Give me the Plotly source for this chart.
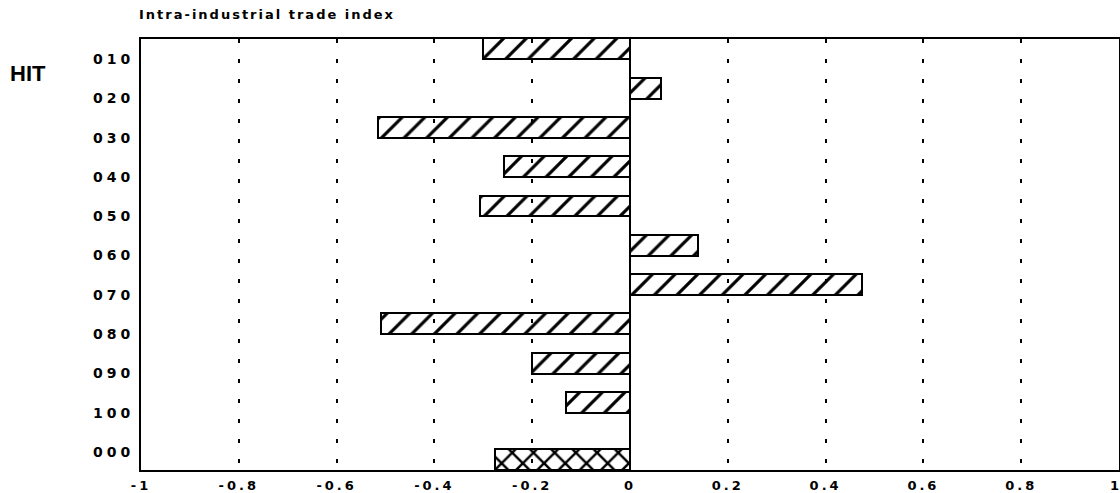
import plotly.graph_objects as go

categories = ["010", "020", "030", "040", "050", "060", "070", "080", "090", "100", "000"]
values = [-0.30, 0.063, -0.515, -0.258, -0.307, 0.139, 0.474, -0.509, -0.20, -0.131, -0.276]
x_ticks = [-1, -0.8, -0.6, -0.4, -0.2, 0, 0.2, 0.4, 0.6, 0.8, 1]
x_tick_labels = ["-1", "-0.8", "-0.6", "-0.4", "-0.2", "0", "0.2", "0.4", "0.6", "0.8", "1"]
title_text = "Intra-industrial trade index"
side_label = "HIT"

n = len(categories)
label_pos = list(range(n))
# bars sit slightly above their labels; the total bar (last) is set apart below
bar_pos = [i - 0.26 for i in range(n - 1)] + [n - 1 + 0.19]

FONT = "DejaVu Sans"

fig = go.Figure()
fig.add_trace(go.Bar(
    x=values[:-1], y=bar_pos[:-1], orientation="h", width=0.53,
    marker=dict(color="rgba(255,255,255,0)", line=dict(color="black", width=2),
                pattern=dict(shape="/", fgcolor="black", fgopacity=1, size=16, solidity=0.2, fillmode="overlay")),
    showlegend=False,
))
fig.add_trace(go.Bar(
    x=values[-1:], y=bar_pos[-1:], orientation="h", width=0.53,
    marker=dict(color="rgba(255,255,255,0)", line=dict(color="black", width=2),
                pattern=dict(shape="x", fgcolor="black", fgopacity=1, size=15, solidity=0.3, fillmode="overlay")),
    showlegend=False,
))

tick_text = ['<span style="letter-spacing:4px">%s</span>' % c for c in categories]
xt_text = ['<span style="letter-spacing:3px">%s</span>' % t for t in x_tick_labels]
# the right-most label sits at the page edge: draw it separately, nudged inside
last_label = x_tick_labels[-1]
xt_text[-1] = ""

tick_font = dict(family=FONT, size=13, color="black", weight="bold")

fig.update_layout(
    width=1120, height=493,
    margin=dict(l=141, r=1, t=39, b=23, autoexpand=False),
    paper_bgcolor="white", plot_bgcolor="white",
    font=dict(family=FONT, color="black"),
    bargap=0,
    xaxis=dict(
        range=[-1, 1], tickvals=x_ticks, ticktext=xt_text, automargin=False,
        tickfont=tick_font,
        ticklabeloverflow="allow",
        showgrid=True, gridcolor="black", gridwidth=2, griddash="4px,16px",
        zeroline=True, zerolinecolor="black", zerolinewidth=2,
        showline=True, linecolor="black", linewidth=2, mirror=True,
        ticks="", ticklabelstandoff=2, fixedrange=True,
    ),
    yaxis=dict(
        range=[10.458, -0.509], tickvals=label_pos, ticktext=tick_text, automargin=False,
        tickfont=dict(family=FONT, size=14, color="black", weight="bold"),
        showgrid=False, zeroline=False,
        showline=True, linecolor="black", linewidth=2, mirror=True,
        ticks="", ticklabelstandoff=2, fixedrange=True,
    ),
    annotations=[
        dict(text='<span style="letter-spacing:2px">%s</span>' % title_text, xref="paper", yref="paper",
             x=0, xanchor="left", xshift=-4, y=1, yanchor="middle", yshift=25,
             showarrow=False, font=dict(family=FONT, size=13, color="black", weight="bold")),
        dict(text=side_label, xref="paper", yref="paper",
             x=(10 - 141) / 978, xanchor="left", xshift=-2, y=(470 - 73) / 431, yanchor="middle",
             showarrow=False, font=dict(family="Liberation Sans", size=22, color="black", weight="bold")),
        dict(text=last_label, xref="x", yref="paper", x=x_ticks[-1], xanchor="right", xshift=1,
             y=0, yanchor="middle", yshift=-15, showarrow=False, borderpad=0, font=tick_font),
    ],
)

fig.write_html("out.html", config={"displayModeBar": False},
               post_script="document.body.style.margin='0px';document.body.style.padding='0px';")
